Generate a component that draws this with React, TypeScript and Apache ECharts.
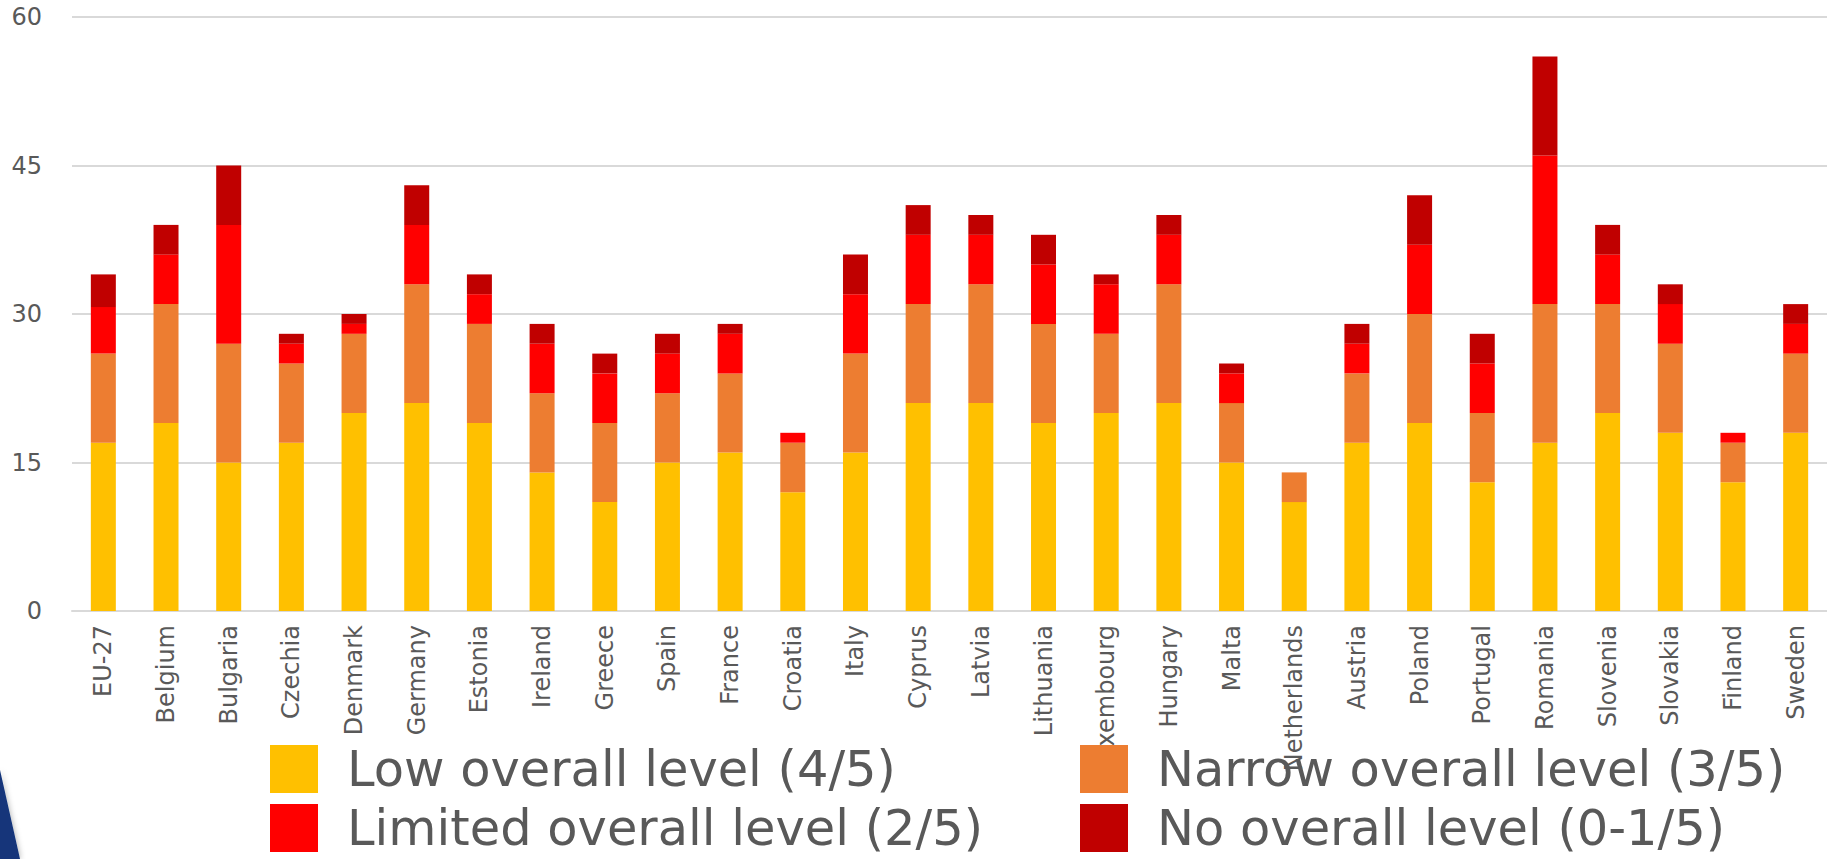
import React, { useEffect, useRef } from "react";
import * as echarts from "echarts";

const categories = [
  "EU-27", "Belgium", "Bulgaria", "Czechia", "Denmark", "Germany", "Estonia",
  "Ireland", "Greece", "Spain", "France", "Croatia", "Italy", "Cyprus", "Latvia",
  "Lithuania", "Luxembourg", "Hungary", "Malta", "Netherlands", "Austria",
  "Poland", "Portugal", "Romania", "Slovenia", "Slovakia", "Finland", "Sweden",
];

const lowLevel = [17, 19, 15, 17, 20, 21, 19, 14, 11, 15, 16, 12, 16, 21, 21, 19, 20, 21, 15, 11, 17, 19, 13, 17, 20, 18, 13, 18];
const narrowLevel = [9, 12, 12, 8, 8, 12, 10, 8, 8, 7, 8, 5, 10, 10, 12, 10, 8, 12, 6, 3, 7, 11, 7, 14, 11, 9, 4, 8];
const limitedLevel = [4.7, 5, 12, 2, 1, 6, 3, 5, 5, 4, 4, 1, 6, 7, 5, 6, 5, 5, 3, 0, 3, 7, 5, 15, 5, 4, 1, 3];
const noLevel = [3.3, 3, 6, 1, 1, 4, 2, 2, 2, 2, 1, 0, 4, 3, 2, 3, 1, 2, 1, 0, 2, 5, 3, 10, 3, 2, 0, 2];

const seriesNames = [
  "Low overall level (4/5)",
  "Narrow overall level (3/5)",
  "Limited overall level (2/5)",
  "No overall level (0-1/5)",
];
const seriesColors = ["#FFC000", "#ED7D31", "#FF0000", "#C00000"];
const yTicks = { min: 0, max: 60, interval: 15 };

const FONT = "'DejaVu Sans', Verdana, sans-serif";
const TEXT = "#595959";

export default function App() {
  const ref = useRef<HTMLDivElement>(null);
  useEffect(() => {
    if (!ref.current) return;
    const chart = echarts.init(ref.current, undefined, { renderer: "svg" });
    const values = [lowLevel, narrowLevel, limitedLevel, noLevel];
    const legendPos = [
      { left: 270, top: 744 },
      { left: 1080, top: 744 },
      { left: 270, top: 803 },
      { left: 1080, top: 803 },
    ];
    const legends = seriesNames.map((name, i) => ({
      orient: "horizontal",
      left: legendPos[i].left,
      top: legendPos[i].top,
      itemWidth: 48,
      itemHeight: 48,
      padding: 0,
      icon: "rect",
      z: 10,
      data: [name],
      textStyle: {
        fontFamily: FONT,
        fontSize: 49.5,
        color: TEXT,
        lineHeight: 48,
        padding: [0, 0, 0, 24],
      },
    }));
    chart.setOption({
      animation: false,
      backgroundColor: "#ffffff",
      grid: { left: 72, right: 0, top: 17, bottom: 248, containLabel: false },
      legend: legends,
      xAxis: {
        type: "category",
        data: categories,
        axisLine: { lineStyle: { color: "#d9d9d9", width: 2 } },
        axisTick: { show: false },
        axisLabel: {
          interval: 0,
          rotate: 90,
          margin: 14,
          fontFamily: FONT,
          fontSize: 24,
          color: TEXT,
        },
      },
      yAxis: {
        type: "value",
        min: yTicks.min,
        max: yTicks.max,
        interval: yTicks.interval,
        axisLine: { show: false },
        axisTick: { show: false },
        splitLine: { lineStyle: { color: "#d9d9d9", width: 2 } },
        axisLabel: { margin: 30, fontFamily: FONT, fontSize: 24, color: TEXT },
      },
      graphic: [
        {
          type: "polygon",
          shape: { points: [[0, 770], [20, 859], [0, 859]] },
          style: { fill: "#12347a", shadowBlur: 6, shadowColor: "rgba(0,0,0,0.35)" },
          z: 20,
        },
      ],
      series: seriesNames.map((name, i) => ({
        name,
        type: "bar",
        stack: "total",
        barWidth: 25,
        itemStyle: { color: seriesColors[i] },
        data: values[i],
      })),
    });
    return () => chart.dispose();
  }, []);
  return (
    <div
      ref={ref}
      style={{ position: "fixed", left: 0, top: 0, width: 1827, height: 859, background: "#fff" }}
    />
  );
}
